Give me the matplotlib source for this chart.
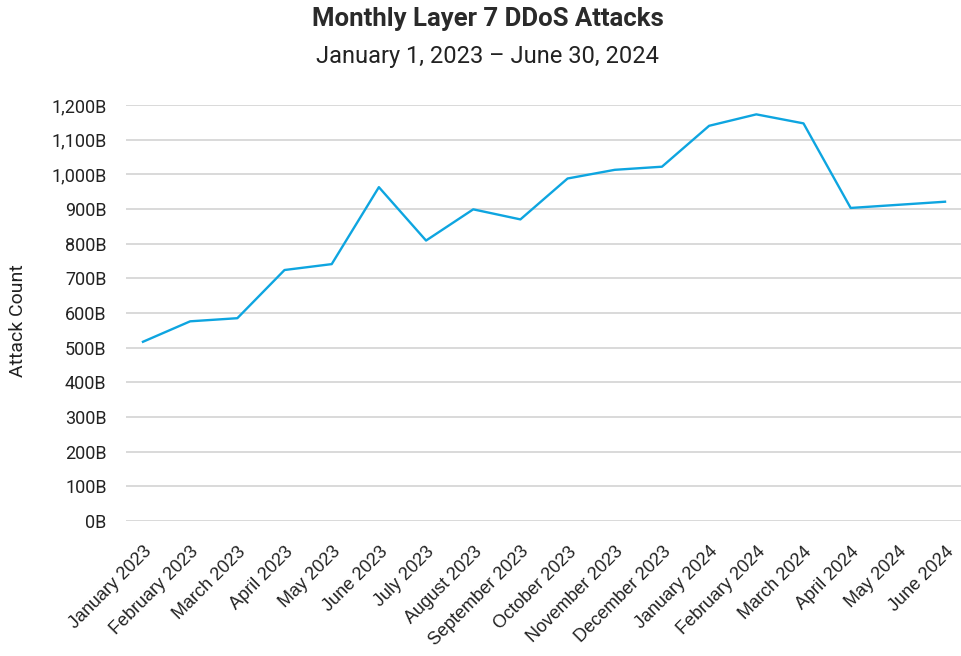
import matplotlib
matplotlib.use("Agg")
import matplotlib.pyplot as plt
from matplotlib.ticker import FuncFormatter, MultipleLocator

months = ["January 2023", "February 2023", "March 2023", "April 2023", "May 2023",
          "June 2023", "July 2023", "August 2023", "September 2023", "October 2023",
          "November 2023", "December 2023", "January 2024", "February 2024",
          "March 2024", "April 2024", "May 2024", "June 2024"]
attacks_billions = [517, 576, 585, 724, 741, 963, 809, 899, 870, 988,
                    1013, 1022, 1140, 1173, 1147, 903, 912, 921]

title = "Monthly Layer 7 DDoS Attacks"
subtitle = "January 1, 2023 \u2013 June 30, 2024"
y_label = "Attack Count"

fig = plt.figure(figsize=(9.62, 6.56), dpi=100)
ax = fig.add_axes([126/962, 1-521/656, 1-126/962, (521-105)/656])

x = list(range(len(months)))
ax.plot(x, attacks_billions, color="#0ea5e0", linewidth=1.7, zorder=3)

ax.set_ylim(0, 1200)
ax.set_xlim(-0.36, len(months) - 1 + 0.36)
ax.yaxis.set_major_locator(MultipleLocator(100))
ax.yaxis.set_major_formatter(FuncFormatter(lambda v, p: f"{int(v):,}B"))
ax.grid(axis="y", color="#d3d3d3", linewidth=1.2, zorder=0)
for s in ax.spines.values():
    s.set_visible(False)
ax.tick_params(axis="both", length=0)
ax.tick_params(axis="y", pad=14, labelsize=13, labelcolor="#222222")
for lab in ax.get_yticklabels():
    lab.set_fontfamily("Roboto")

ax.set_xticks(x)
ax.set_xticklabels(months, rotation=45, ha="right", rotation_mode="anchor",
                   fontsize=13, fontfamily="Liberation Sans", color="#222222")
ax.tick_params(axis="x", pad=16)

fig.text(18/962, 1-321/656, y_label, rotation=90, ha="center", va="center",
         fontsize=14, fontfamily="Roboto", color="#222222")
fig.text(487.5/962, 1-19/656, title, ha="center", va="center",
         fontsize=18.5, fontfamily="Roboto", fontweight="semibold", color="#2a2a2a")
fig.text(487.5/962, 1-56/656, subtitle, ha="center", va="center",
         fontsize=17, fontfamily="Roboto", color="#222222")

fig.savefig("out.png", dpi=100, facecolor="white")
